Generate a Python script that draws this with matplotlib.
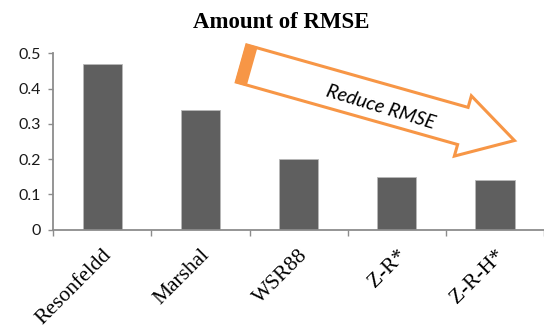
import numpy as np
import matplotlib
matplotlib.use("Agg")
import matplotlib.pyplot as plt
from matplotlib.patches import Polygon

# Chart data
methods = ["Resonfeldd", "Marshal", "WSR88", "Z-R*", "Z-R-H*"]
rmse = [0.47, 0.34, 0.20, 0.15, 0.14]
yticks = [0, 0.1, 0.2, 0.3, 0.4, 0.5]
ytick_labels = ["0", "0.1", "0.2", "0.3", "0.4", "0.5"]

W, H = 544, 330
fig = plt.figure(figsize=(W / 100, H / 100), dpi=100)
ax = fig.add_axes([53.3 / W, 1 - 229.7 / H, 1 - 53.3 / W, (229.7 - 53.3) / H])

x = np.arange(len(methods))
ax.bar(x, rmse, width=0.40, color="#5f5f5f", edgecolor="#b8b8b8", linewidth=0.6, zorder=2)

ax.set_xlim(-0.5, len(methods) - 0.5)
ax.set_ylim(0, 0.5)
ax.set_yticks(yticks)
ax.set_yticklabels(ytick_labels, family="Lato", fontsize=11.5, color="#1a1a1a")

# category labels at centres, tick marks at the boundaries
ax.set_xticks(x)
ax.set_xticklabels(methods, family="Liberation Serif", fontsize=15.5,
                   rotation=45, ha="right", rotation_mode="anchor")
ax.set_xticks(np.arange(len(methods) + 1) - 0.5, minor=True)
ax.tick_params(axis="x", which="major", length=0, pad=11.5)
ax.tick_params(axis="x", which="minor", length=4, width=1, color="#8c8c8c", direction="out")
ax.tick_params(axis="y", length=3.5, width=1, color="#8c8c8c", direction="out", pad=5.5)

for s in ("top", "right"):
    ax.spines[s].set_visible(False)
for s in ("left", "bottom"):
    ax.spines[s].set_color("#8c8c8c")
    ax.spines[s].set_linewidth(1.3)

fig.text(281.5 / W, 1 - 22 / H, "Amount of RMSE", family="Liberation Serif",
         fontweight="bold", fontsize=16.5, ha="center", va="center")

# block arrow annotation (pixel geometry, origin top-left)
orange = "#f79646"
tail = np.array([241.5, 63.5])
u = np.array([221.5, 62.5]); u = u / np.linalg.norm(u)
n = np.array([u[1], -u[0]])  # points upward in image space
half_w, shaft_len, head_half, tip_len = 19.3, 230.0, 31.3, 283.6
pts = [tail + n * half_w,
       tail + u * shaft_len + n * half_w,
       tail + u * shaft_len + n * head_half,
       tail + u * tip_len,
       tail + u * shaft_len - n * head_half,
       tail + u * shaft_len - n * half_w,
       tail - n * half_w]

def to_fig(p):
    return [(px / W, 1 - py / H) for px, py in p]

fig.patches.append(Polygon(to_fig(pts), closed=True, facecolor="white", edgecolor=orange,
                           linewidth=2.2, transform=fig.transFigure, figure=fig, joinstyle="miter"))
stripe = [tail + n * half_w, tail + n * half_w + u * 10,
          tail - n * half_w + u * 10, tail - n * half_w]
fig.patches.append(Polygon(to_fig(stripe), closed=True, facecolor=orange, edgecolor=orange,
                           linewidth=1.5, transform=fig.transFigure, figure=fig))

fig.text(381 / W, 1 - 107.5 / H, "Reduce RMSE", family="Lato", style="italic",
         fontsize=14, rotation=-17, ha="center", va="center", rotation_mode="anchor")

fig.savefig("out.png", dpi=100)
